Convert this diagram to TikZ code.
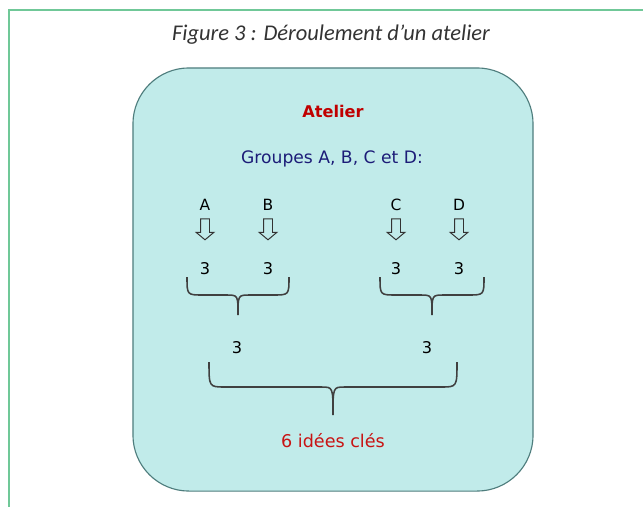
\documentclass[tikz,border=0pt]{standalone}
\usepackage{fontspec}
\setmainfont{DejaVu Sans}
\newfontfamily\titlefont{Carlito}
\usetikzlibrary{shapes.arrows}

\definecolor{framegreen}{RGB}{112,200,152}
\definecolor{boxfill}{RGB}{193,235,234}
\definecolor{boxline}{RGB}{78,125,125}
\definecolor{atelierred}{RGB}{192,0,0}
\definecolor{groupblue}{RGB}{28,28,120}
\definecolor{ideared}{RGB}{200,20,20}
\definecolor{braceline}{RGB}{64,64,64}

% curly brace opening downwards: left x, right x, top y, bar y, tip y
\newcommand{\ideabrace}[5]{%
  \pgfmathsetmacro{\bracemid}{(#1+#2)/2}
  \draw[brace line] (#1,#3) .. controls (#1,#4) .. (#1+16,#4)
    -- (\bracemid-12,#4) .. controls (\bracemid,#4) .. (\bracemid,#5)
    .. controls (\bracemid,#4) .. (\bracemid+12,#4)
    -- (#2-16,#4) .. controls (#2,#4) .. (#2,#3);
}

\begin{document}
\begin{tikzpicture}
    [x=0.025cm,y=-0.025cm,
     frame/.style={draw=framegreen,line width=1.5pt},
     workshop/.style={draw=boxline,fill=boxfill,line width=0.8pt,rounded corners=1.4cm,
       minimum width=10cm,minimum height=10.575cm,inner sep=0pt},
     caption/.style={anchor=base,font=\titlefont\itshape\fontsize{16}{18}\selectfont,text=black!80},
     heading/.style={anchor=base,font=\bfseries\fontsize{11.5}{13}\selectfont,text=atelierred},
     groups/.style={anchor=base,font=\fontsize{12.2}{14}\selectfont,text=groupblue},
     letter/.style={anchor=base,font=\fontsize{11}{13}\selectfont,text=black},
     count/.style={anchor=base,font=\fontsize{11.5}{13}\selectfont,text=black},
     result/.style={anchor=base,font=\fontsize{12.5}{14}\selectfont,text=ideared},
     downarrow/.style={single arrow,draw=black!80,line width=0.7pt,rotate=-90,
       inner xsep=0pt,inner ysep=0.1cm,minimum height=0.52cm,
       single arrow head extend=0.11cm,single arrow tip angle=100},
     brace line/.style={draw=braceline,line width=1.1pt}]

    \useasboundingbox (0,0) rectangle (643,506);
    \draw[frame] (650,10) -- (9,10) -- (9,512);

    \node[workshop] (atelier) at (333,279.5) {};

    \node[caption] (title) at (331,40) {Figure 3 : Déroulement d’un atelier};
    \node[heading] (heading) at (333,117) {Atelier};
    \node[groups] (groups) at (332,163) {Groupes A, B, C et D:};

    \foreach \name/\x in {A/205,B/268,C/396,D/459} {
      \node[letter] (l\name) at (\x,210) {\name};
      \node[downarrow] (a\name) at (\x,227.5) {};
      \node[count] (n\name) at (\x,274) {3};
    }

    \ideabrace{187}{289}{277}{295}{315}
    \ideabrace{380}{484}{277}{295}{315}

    \node[count] (nAB) at (237,353) {3};
    \node[count] (nCD) at (427,353) {3};

    \ideabrace{209}{457}{362}{387}{415}

    \node[result] (ideas) at (333,447) {6 idées clés};
\end{tikzpicture}
\end{document}
